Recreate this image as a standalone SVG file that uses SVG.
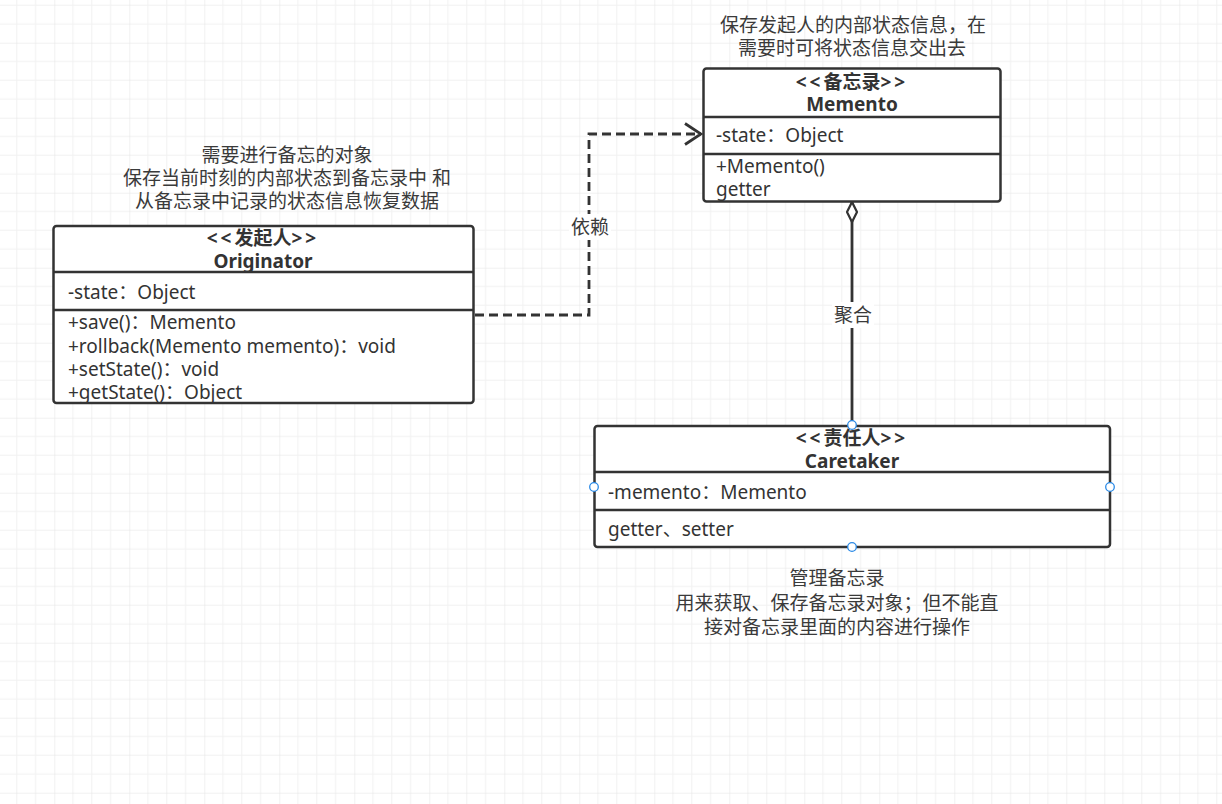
<svg xmlns="http://www.w3.org/2000/svg" width="1222" height="804" viewBox="0 0 1222 804">
<style>
.box{fill:#fff;stroke:#333;stroke-width:2.5}
.div{stroke:#333;stroke-width:2.5}
.t{font-family:"Noto Sans","Noto Sans CJK SC",sans-serif;font-size:19px;fill:#333;dominant-baseline:central}
.b{font-weight:bold;text-anchor:middle}
.s{letter-spacing:3px}
.n{font-family:"Noto Sans","Noto Sans CJK SC",sans-serif;font-size:19px;fill:#3a3a3a;text-anchor:middle;dominant-baseline:central}
.h{fill:#fff;stroke:#2b8ae6;stroke-width:1.3}
.conn{fill:none;stroke:#333;stroke-width:2.8}
</style>
<defs>
<pattern id="grid" x="54.3" y="42.7" width="75" height="75" patternUnits="userSpaceOnUse">
<path d="M18.75 0V75M37.5 0V75M56.25 0V75M0 18.75H75M0 37.5H75M0 56.25H75" stroke="#f1f1f1" stroke-width="1"/>
<path d="M0 0V75M0 0H75" stroke="#e3e3e3" stroke-width="1"/>
</pattern>
<marker id="open" viewBox="0 0 20 24" refX="18" refY="12" markerWidth="20" markerHeight="24" markerUnits="userSpaceOnUse" orient="auto">
<path d="M2 1.5L18 12L2 22.5" fill="none" stroke="#333" stroke-width="2.8"/>
</marker>
<marker id="diamond" viewBox="0 0 24 12" refX="1" refY="6" markerWidth="24" markerHeight="12" markerUnits="userSpaceOnUse" orient="auto">
<path d="M1 6L11 1L21 6L11 11Z" fill="#fff" stroke="#333" stroke-width="2.2"/>
</marker>
</defs>
<rect width="1222" height="804" fill="#fff"/>
<rect width="1222" height="804" fill="url(#grid)"/>

<g id="connectors">
<path class="conn" d="M475 315H589V134H701" stroke-dasharray="9 5" marker-end="url(#open)"/>
<path class="conn" d="M852 202V426" marker-start="url(#diamond)"/>
<rect x="569" y="214" width="42" height="26" fill="#fff"/>
<text class="n" x="590" y="227">依赖</text>
<rect x="832" y="302" width="42" height="26" fill="#fff"/>
<text class="n" x="853" y="315">聚合</text>
</g>

<g id="originator">
<text class="n" x="287" y="155">需要进行备忘的对象</text>
<text class="n" x="287" y="178">保存当前时刻的内部状态到备忘录中 和</text>
<text class="n" x="287" y="201">从备忘录中记录的状态信息恢复数据</text>
<rect class="box" x="53.5" y="226" width="420" height="177" rx="3"/>
<line class="div" x1="53.5" y1="272" x2="473.5" y2="272"/>
<line class="div" x1="53.5" y1="310" x2="473.5" y2="310"/>
<text class="t b" x="263" y="238"><tspan class="s">&lt;&lt;</tspan>发起人<tspan class="s">&gt;&gt;</tspan></text>
<text class="t b" x="263" y="261">Originator</text>
<text class="t" x="68" y="292">-state：Object</text>
<text class="t" x="68" y="322">+save()：Memento</text>
<text class="t" x="68" y="346">+rollback(Memento memento)：void</text>
<text class="t" x="68" y="369">+setState()：void</text>
<text class="t" x="68" y="392">+getState()：Object</text>
</g>

<g id="memento">
<text class="n" x="853" y="25">保存发起人的内部状态信息，在</text>
<text class="n" x="852" y="48">需要时可将状态信息交出去</text>
<rect class="box" x="703.5" y="68.5" width="297" height="133" rx="3"/>
<line class="div" x1="703.5" y1="117" x2="1000.5" y2="117"/>
<line class="div" x1="703.5" y1="154" x2="1000.5" y2="154"/>
<text class="t b" x="852" y="82"><tspan class="s">&lt;&lt;</tspan>备忘录<tspan class="s">&gt;&gt;</tspan></text>
<text class="t b" x="852" y="104">Memento</text>
<text class="t" x="716" y="135">-state：Object</text>
<text class="t" x="716" y="166">+Memento()</text>
<text class="t" x="716" y="189">getter</text>
</g>

<g id="caretaker">
<rect class="box" x="594.5" y="426" width="515.5" height="121" rx="3"/>
<line class="div" x1="594.5" y1="472" x2="1110" y2="472"/>
<line class="div" x1="594.5" y1="510" x2="1110" y2="510"/>
<text class="t b" x="852" y="438"><tspan class="s">&lt;&lt;</tspan>责任人<tspan class="s">&gt;&gt;</tspan></text>
<text class="t b" x="852" y="461">Caretaker</text>
<text class="t" x="608" y="492">-memento：Memento</text>
<text class="t" x="608" y="529">getter、setter</text>
<circle class="h" cx="852" cy="425" r="4.3"/>
<circle class="h" cx="852" cy="547" r="4.3"/>
<circle class="h" cx="594" cy="487" r="4.3"/>
<circle class="h" cx="1110" cy="487" r="4.3"/>
<text class="n" x="837" y="578">管理备忘录</text>
<text class="n" x="837" y="603">用来获取、保存备忘录对象；但不能直</text>
<text class="n" x="837" y="627">接对备忘录里面的内容进行操作</text>
</g>
</svg>
